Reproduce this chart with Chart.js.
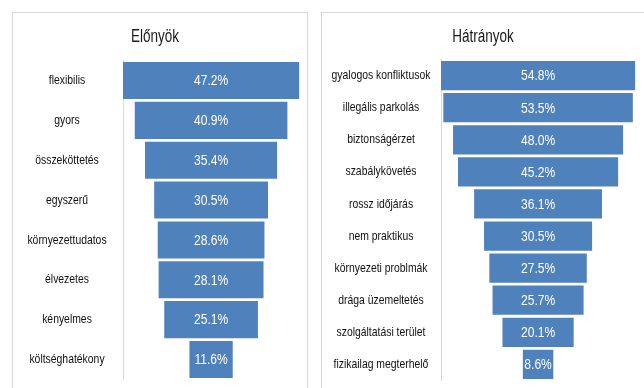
<!DOCTYPE html>
<html>
<head>
<meta charset="utf-8">
<script src="https://cdn.jsdelivr.net/npm/chart.js@4"></script>
<style>
  html, body { margin: 0; padding: 0; background: #ffffff; }
  body { width: 644px; height: 388px; position: relative; overflow: hidden; }
  .panel { position: absolute; top: 12px; border: 1px solid #d9d9d9; border-bottom: none; box-sizing: border-box; background: #fff; }
  #leftPanel { left: 12px; width: 296px; height: 376px; }
  #rightPanel { left: 321px; width: 330px; height: 376px; border-right: none; }
  canvas { display: block; }
</style>
</head>
<body>
<div class="panel" id="leftPanel"><canvas id="advChart" width="294" height="375"></canvas></div>
<div class="panel" id="rightPanel"><canvas id="disChart" width="322" height="375"></canvas></div>
<script>
// Előnyök (advantages), share of respondents in %
const advantageLabels = ['flexibilis', 'gyors', 'összeköttetés', 'egyszerű', 'környezettudatos', 'élvezetes', 'kényelmes', 'költséghatékony'];
const advantageValues = [47.2, 40.9, 35.4, 30.5, 28.6, 28.1, 25.1, 11.6];

// Hátrányok (disadvantages), share of respondents in %
const disadvantageLabels = ['gyalogos konfliktusok', 'illegális parkolás', 'biztonságérzet', 'szabálykövetés', 'rossz időjárás', 'nem praktikus', 'környezeti problmák', 'drága üzemeltetés', 'szolgáltatási terület', 'fizikailag megterhelő'];
const disadvantageValues = [54.8, 53.5, 48.0, 45.2, 36.1, 30.5, 27.5, 25.7, 20.1, 8.6];

const BAR_BLUE = '#4f81bd';
const FONT = "'Liberation Sans', Arial, sans-serif";

// Draws text squeezed horizontally to get a narrow typeface look
function narrowText(ctx, text, x, y, size, squeeze, color) {
  ctx.save();
  ctx.translate(x, y);
  ctx.scale(squeeze, 1);
  ctx.font = size + 'px ' + FONT;
  ctx.fillStyle = color;
  ctx.textAlign = 'center';
  ctx.textBaseline = 'middle';
  ctx.fillText(text, 0, 0);
  ctx.restore();
}

// Title, category names and the white percentage inside each bar
const funnelTextPlugin = {
  id: 'funnelText',
  afterDatasetsDraw(chart, args, opts) {
    const { ctx } = chart;
    const yScale = chart.scales.y;
    const meta = chart.getDatasetMeta(0);
    const values = chart.data.datasets[0].values;

    narrowText(ctx, opts.title, opts.titleCenter, 24, 18, 0.75, '#1a1a1a');

    chart.data.labels.forEach((label, i) => {
      narrowText(ctx, label, opts.labelCenter, yScale.getPixelForTick(i), 13, 0.8, '#111111');
    });

    meta.data.forEach((bar, i) => {
      const p = bar.getProps(['x', 'base', 'y'], true);
      narrowText(ctx, values[i].toFixed(1) + '%', (p.x + p.base) / 2, p.y + 1, 14, 0.86, '#ffffff');
    });
  }
};

// Funnel-style chart: each bar floats symmetrically around zero
function funnelChart(id, title, labels, values, cfg) {
  return new Chart(document.getElementById(id), {
    type: 'bar',
    data: {
      labels: labels,
      datasets: [{
        data: values.map(v => [-v / 2, v / 2]),
        values: values,
        backgroundColor: BAR_BLUE,
        borderWidth: 0,
        categoryPercentage: 1,
        barPercentage: cfg.barPct
      }]
    },
    options: {
      indexAxis: 'y',
      responsive: false,
      animation: false,
      layout: { padding: { left: 0, right: 0, top: cfg.padTop, bottom: cfg.padBottom } },
      plugins: {
        legend: { display: false },
        tooltip: { enabled: false },
        funnelText: { title: title, titleCenter: cfg.titleCenter, labelCenter: cfg.labelCenter }
      },
      scales: {
        x: { display: false, min: cfg.xMin, max: cfg.xMax },
        y: {
          grid: { display: false, drawTicks: false },
          border: { display: true, color: '#d9d9d9', width: 1 },
          ticks: { display: false },
          afterFit(scale) { scale.width = cfg.axisWidth; }
        }
      }
    },
    plugins: [funnelTextPlugin]
  });
}

funnelChart('advChart', 'Előnyök', advantageLabels, advantageValues,
  { axisWidth: 110, xMin: -23.6, xMax: 25.7, barPct: 0.93, padTop: 47.6, padBottom: 8.6, labelCenter: 54, titleCenter: 142 });
funnelChart('disChart', 'Hátrányok', disadvantageLabels, disadvantageValues,
  { axisWidth: 119, xMin: -27.4, xMax: 29.9, barPct: 0.91, padTop: 46.6, padBottom: 7.6, labelCenter: 59, titleCenter: 161 });
</script>
</body>
</html>
